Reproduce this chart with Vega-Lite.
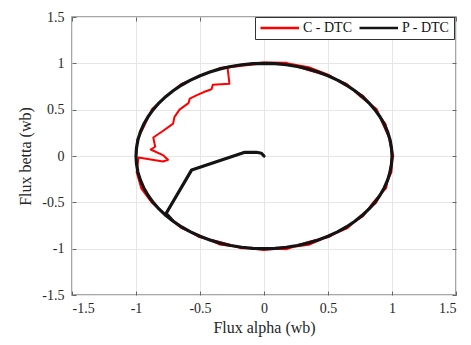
{
  "$schema": "https://vega.github.io/schema/vega-lite/v6.json",
  "width": 384,
  "height": 278,
  "autosize": "none",
  "padding": {"left": 72, "top": 17, "right": 15, "bottom": 50},
  "background": "white",
  "config": {
    "font": "Liberation Serif",
    "view": {"stroke": "#8a8a8a", "strokeWidth": 1.5}
  },
  "data": {
    "values": [
      {"s": "C - DTC", "i": 1, "x": 0, "y": 0},
      {"s": "C - DTC", "i": 2, "x": -0.02, "y": 0.03},
      {"s": "C - DTC", "i": 3, "x": -0.06, "y": 0.04},
      {"s": "C - DTC", "i": 4, "x": -0.15, "y": 0.04},
      {"s": "C - DTC", "i": 5, "x": -0.565, "y": -0.15},
      {"s": "C - DTC", "i": 6, "x": -0.765, "y": -0.62},
      {"s": "C - DTC", "i": 7, "x": -0.766, "y": -0.643},
      {"s": "C - DTC", "i": 8, "x": -0.649, "y": -0.774},
      {"s": "C - DTC", "i": 9, "x": -0.498, "y": -0.862},
      {"s": "C - DTC", "i": 10, "x": -0.347, "y": -0.954},
      {"s": "C - DTC", "i": 11, "x": -0.174, "y": -0.985},
      {"s": "C - DTC", "i": 12, "x": 0, "y": -1.015},
      {"s": "C - DTC", "i": 13, "x": 0.175, "y": -0.99},
      {"s": "C - DTC", "i": 14, "x": 0.349, "y": -0.959},
      {"s": "C - DTC", "i": 15, "x": 0.5, "y": -0.866},
      {"s": "C - DTC", "i": 16, "x": 0.653, "y": -0.777},
      {"s": "C - DTC", "i": 17, "x": 0.762, "y": -0.64},
      {"s": "C - DTC", "i": 18, "x": 0.875, "y": -0.505},
      {"s": "C - DTC", "i": 19, "x": 0.94, "y": -0.342},
      {"s": "C - DTC", "i": 20, "x": 0.995, "y": -0.176},
      {"s": "C - DTC", "i": 21, "x": 1.005, "y": 0},
      {"s": "C - DTC", "i": 22, "x": 0.98, "y": 0.173},
      {"s": "C - DTC", "i": 23, "x": 0.949, "y": 0.345},
      {"s": "C - DTC", "i": 24, "x": 0.866, "y": 0.5},
      {"s": "C - DTC", "i": 25, "x": 0.774, "y": 0.649},
      {"s": "C - DTC", "i": 26, "x": 0.64, "y": 0.762},
      {"s": "C - DTC", "i": 27, "x": 0.505, "y": 0.875},
      {"s": "C - DTC", "i": 28, "x": 0.349, "y": 0.959},
      {"s": "C - DTC", "i": 29, "x": 0.177, "y": 1.0},
      {"s": "C - DTC", "i": 30, "x": 0, "y": 1.0},
      {"s": "C - DTC", "i": 31, "x": -0.172, "y": 0.975},
      {"s": "C - DTC", "i": 32, "x": -0.285, "y": 0.955},
      {"s": "C - DTC", "i": 33, "x": -0.27, "y": 0.78},
      {"s": "C - DTC", "i": 34, "x": -0.4, "y": 0.77},
      {"s": "C - DTC", "i": 35, "x": -0.41, "y": 0.72},
      {"s": "C - DTC", "i": 36, "x": -0.47, "y": 0.69},
      {"s": "C - DTC", "i": 37, "x": -0.52, "y": 0.66},
      {"s": "C - DTC", "i": 38, "x": -0.58, "y": 0.62},
      {"s": "C - DTC", "i": 39, "x": -0.59, "y": 0.57},
      {"s": "C - DTC", "i": 40, "x": -0.66, "y": 0.5},
      {"s": "C - DTC", "i": 41, "x": -0.7, "y": 0.42},
      {"s": "C - DTC", "i": 42, "x": -0.71, "y": 0.35},
      {"s": "C - DTC", "i": 43, "x": -0.79, "y": 0.27},
      {"s": "C - DTC", "i": 44, "x": -0.865, "y": 0.2},
      {"s": "C - DTC", "i": 45, "x": -0.85, "y": 0.1},
      {"s": "C - DTC", "i": 46, "x": -0.885, "y": 0.07},
      {"s": "C - DTC", "i": 47, "x": -0.79, "y": 0.01},
      {"s": "C - DTC", "i": 48, "x": -0.75, "y": -0.04},
      {"s": "C - DTC", "i": 49, "x": -0.79, "y": -0.06},
      {"s": "C - DTC", "i": 50, "x": -0.98, "y": -0.015},
      {"s": "C - DTC", "i": 51, "x": -0.995, "y": -0.176},
      {"s": "C - DTC", "i": 52, "x": -0.959, "y": -0.349},
      {"s": "C - DTC", "i": 53, "x": -0.875, "y": -0.505},
      {"s": "C - DTC", "i": 54, "x": -0.762, "y": -0.64},
      {"s": "C - DTC", "i": 55, "x": -0.643, "y": -0.766},
      {"s": "C - DTC", "i": 56, "x": -0.505, "y": -0.875},
      {"s": "C - DTC", "i": 57, "x": -0.339, "y": -0.931},
      {"s": "C - DTC", "i": 58, "x": -0.176, "y": -0.995},
      {"s": "C - DTC", "i": 59, "x": 0, "y": -0.995},
      {"s": "C - DTC", "i": 60, "x": 0.177, "y": -1.005},
      {"s": "C - DTC", "i": 61, "x": 0.339, "y": -0.931},
      {"s": "C - DTC", "i": 62, "x": 0.505, "y": -0.875},
      {"s": "C - DTC", "i": 63, "x": 0.643, "y": -0.766},
      {"s": "C - DTC", "i": 64, "x": 0.774, "y": -0.649},
      {"s": "C - DTC", "i": 65, "x": 0.857, "y": -0.495},
      {"s": "C - DTC", "i": 66, "x": 0.954, "y": -0.347},
      {"s": "C - DTC", "i": 67, "x": 0.98, "y": -0.173},
      {"s": "C - DTC", "i": 68, "x": 1.01, "y": 0},
      {"s": "C - DTC", "i": 69, "x": 0.985, "y": 0.174},
      {"s": "C - DTC", "i": 70, "x": 0.931, "y": 0.339},
      {"s": "C - DTC", "i": 71, "x": 0.879, "y": 0.508},
      {"s": "C - DTC", "i": 72, "x": 0.758, "y": 0.637},
      {"s": "C - DTC", "i": 73, "x": 0.649, "y": 0.774},
      {"s": "C - DTC", "i": 74, "x": 0.5, "y": 0.866},
      {"s": "C - DTC", "i": 75, "x": 0.339, "y": 0.931},
      {"s": "C - DTC", "i": 76, "x": 0.177, "y": 1.005},
      {"s": "C - DTC", "i": 77, "x": 0, "y": 1.01},
      {"s": "C - DTC", "i": 78, "x": -0.174, "y": 0.985},
      {"s": "C - DTC", "i": 79, "x": -0.345, "y": 0.949},
      {"s": "C - DTC", "i": 80, "x": -0.498, "y": 0.862},
      {"s": "C - DTC", "i": 81, "x": -0.649, "y": 0.774},
      {"s": "C - DTC", "i": 82, "x": -0.766, "y": 0.643},
      {"s": "C - DTC", "i": 83, "x": -0.875, "y": 0.505},
      {"s": "C - DTC", "i": 84, "x": -0.931, "y": 0.339},
      {"s": "C - DTC", "i": 85, "x": -0.99, "y": 0.175},
      {"s": "C - DTC", "i": 86, "x": -1.0, "y": 0},
      {"s": "P - DTC", "i": 1, "x": 0, "y": 0},
      {"s": "P - DTC", "i": 2, "x": -0.02, "y": 0.03},
      {"s": "P - DTC", "i": 3, "x": -0.06, "y": 0.04},
      {"s": "P - DTC", "i": 4, "x": -0.15, "y": 0.04},
      {"s": "P - DTC", "i": 5, "x": -0.565, "y": -0.15},
      {"s": "P - DTC", "i": 6, "x": -0.765, "y": -0.62},
      {"s": "P - DTC", "i": 7, "x": -0.707, "y": -0.707},
      {"s": "P - DTC", "i": 8, "x": -0.643, "y": -0.766},
      {"s": "P - DTC", "i": 9, "x": -0.574, "y": -0.819},
      {"s": "P - DTC", "i": 10, "x": -0.5, "y": -0.866},
      {"s": "P - DTC", "i": 11, "x": -0.423, "y": -0.906},
      {"s": "P - DTC", "i": 12, "x": -0.342, "y": -0.94},
      {"s": "P - DTC", "i": 13, "x": -0.259, "y": -0.966},
      {"s": "P - DTC", "i": 14, "x": -0.174, "y": -0.985},
      {"s": "P - DTC", "i": 15, "x": -0.087, "y": -0.996},
      {"s": "P - DTC", "i": 16, "x": 0, "y": -1},
      {"s": "P - DTC", "i": 17, "x": 0.087, "y": -0.996},
      {"s": "P - DTC", "i": 18, "x": 0.174, "y": -0.985},
      {"s": "P - DTC", "i": 19, "x": 0.259, "y": -0.966},
      {"s": "P - DTC", "i": 20, "x": 0.342, "y": -0.94},
      {"s": "P - DTC", "i": 21, "x": 0.423, "y": -0.906},
      {"s": "P - DTC", "i": 22, "x": 0.5, "y": -0.866},
      {"s": "P - DTC", "i": 23, "x": 0.574, "y": -0.819},
      {"s": "P - DTC", "i": 24, "x": 0.643, "y": -0.766},
      {"s": "P - DTC", "i": 25, "x": 0.707, "y": -0.707},
      {"s": "P - DTC", "i": 26, "x": 0.766, "y": -0.643},
      {"s": "P - DTC", "i": 27, "x": 0.819, "y": -0.574},
      {"s": "P - DTC", "i": 28, "x": 0.866, "y": -0.5},
      {"s": "P - DTC", "i": 29, "x": 0.906, "y": -0.423},
      {"s": "P - DTC", "i": 30, "x": 0.94, "y": -0.342},
      {"s": "P - DTC", "i": 31, "x": 0.966, "y": -0.259},
      {"s": "P - DTC", "i": 32, "x": 0.985, "y": -0.174},
      {"s": "P - DTC", "i": 33, "x": 0.996, "y": -0.087},
      {"s": "P - DTC", "i": 34, "x": 1, "y": 0},
      {"s": "P - DTC", "i": 35, "x": 0.996, "y": 0.087},
      {"s": "P - DTC", "i": 36, "x": 0.985, "y": 0.174},
      {"s": "P - DTC", "i": 37, "x": 0.966, "y": 0.259},
      {"s": "P - DTC", "i": 38, "x": 0.94, "y": 0.342},
      {"s": "P - DTC", "i": 39, "x": 0.906, "y": 0.423},
      {"s": "P - DTC", "i": 40, "x": 0.866, "y": 0.5},
      {"s": "P - DTC", "i": 41, "x": 0.819, "y": 0.574},
      {"s": "P - DTC", "i": 42, "x": 0.766, "y": 0.643},
      {"s": "P - DTC", "i": 43, "x": 0.707, "y": 0.707},
      {"s": "P - DTC", "i": 44, "x": 0.643, "y": 0.766},
      {"s": "P - DTC", "i": 45, "x": 0.574, "y": 0.819},
      {"s": "P - DTC", "i": 46, "x": 0.5, "y": 0.866},
      {"s": "P - DTC", "i": 47, "x": 0.423, "y": 0.906},
      {"s": "P - DTC", "i": 48, "x": 0.342, "y": 0.94},
      {"s": "P - DTC", "i": 49, "x": 0.259, "y": 0.966},
      {"s": "P - DTC", "i": 50, "x": 0.174, "y": 0.985},
      {"s": "P - DTC", "i": 51, "x": 0.087, "y": 0.996},
      {"s": "P - DTC", "i": 52, "x": 0, "y": 1},
      {"s": "P - DTC", "i": 53, "x": -0.087, "y": 0.996},
      {"s": "P - DTC", "i": 54, "x": -0.174, "y": 0.985},
      {"s": "P - DTC", "i": 55, "x": -0.259, "y": 0.966},
      {"s": "P - DTC", "i": 56, "x": -0.342, "y": 0.94},
      {"s": "P - DTC", "i": 57, "x": -0.423, "y": 0.906},
      {"s": "P - DTC", "i": 58, "x": -0.5, "y": 0.866},
      {"s": "P - DTC", "i": 59, "x": -0.574, "y": 0.819},
      {"s": "P - DTC", "i": 60, "x": -0.643, "y": 0.766},
      {"s": "P - DTC", "i": 61, "x": -0.707, "y": 0.707},
      {"s": "P - DTC", "i": 62, "x": -0.766, "y": 0.643},
      {"s": "P - DTC", "i": 63, "x": -0.819, "y": 0.574},
      {"s": "P - DTC", "i": 64, "x": -0.866, "y": 0.5},
      {"s": "P - DTC", "i": 65, "x": -0.906, "y": 0.423},
      {"s": "P - DTC", "i": 66, "x": -0.94, "y": 0.342},
      {"s": "P - DTC", "i": 67, "x": -0.966, "y": 0.259},
      {"s": "P - DTC", "i": 68, "x": -0.985, "y": 0.174},
      {"s": "P - DTC", "i": 69, "x": -0.996, "y": 0.087},
      {"s": "P - DTC", "i": 70, "x": -1, "y": 0},
      {"s": "P - DTC", "i": 71, "x": -0.996, "y": -0.087},
      {"s": "P - DTC", "i": 72, "x": -0.985, "y": -0.174},
      {"s": "P - DTC", "i": 73, "x": -0.966, "y": -0.259},
      {"s": "P - DTC", "i": 74, "x": -0.94, "y": -0.342},
      {"s": "P - DTC", "i": 75, "x": -0.906, "y": -0.423},
      {"s": "P - DTC", "i": 76, "x": -0.866, "y": -0.5},
      {"s": "P - DTC", "i": 77, "x": -0.819, "y": -0.574},
      {"s": "P - DTC", "i": 78, "x": -0.766, "y": -0.643},
      {"s": "P - DTC", "i": 79, "x": -0.707, "y": -0.707}
    ]
  },
  "resolve": {"axis": {"x": "independent", "y": "independent"}},
  "layer": [
    {
      "transform": [{"filter": "datum.s == 'C - DTC'"}],
      "mark": {"type": "line", "strokeJoin": "round", "strokeCap": "round", "strokeWidth": 2},
      "encoding": {
        "x": {
          "field": "x", "type": "quantitative",
          "scale": {"domain": [-1.5, 1.5], "nice": false, "zero": false},
          "axis": {
            "orient": "bottom", "offset": -4,
            "values": [-1.5, -1, -0.5, 0, 0.5, 1, 1.5],
            "labelExpr": "'' + datum.value",
            "title": "Flux alpha (wb)",
            "titleFont": "Liberation Serif", "titleFontSize": 16, "titleFontWeight": "normal", "titleColor": "#262626", "titlePadding": 4,
            "labelFont": "Liberation Serif", "labelFontSize": 14, "labelColor": "#262626", "labelPadding": 6,
            "domain": false, "tickSize": 4, "tickColor": "#666", "tickWidth": 1,
            "grid": true, "gridColor": "#e6e6e6", "gridWidth": 1
          }
        },
        "y": {
          "field": "y", "type": "quantitative",
          "scale": {"domain": [-1.5, 1.5], "nice": false, "zero": false},
          "axis": {
            "orient": "left", "offset": -4,
            "values": [-1.5, -1, -0.5, 0, 0.5, 1, 1.5],
            "labelExpr": "'' + datum.value",
            "title": "Flux betta (wb)",
            "titleFont": "Liberation Serif", "titleFontSize": 16, "titleFontWeight": "normal", "titleColor": "#262626", "titlePadding": 8,
            "labelFont": "Liberation Serif", "labelFontSize": 14, "labelColor": "#262626", "labelPadding": 8,
            "domain": false, "tickSize": 4, "tickColor": "#666", "tickWidth": 1,
            "grid": true, "gridColor": "#e6e6e6", "gridWidth": 1
          }
        },
        "order": {"field": "i", "type": "quantitative"},
        "color": {
          "field": "s", "type": "nominal",
          "scale": {"domain": ["C - DTC", "P - DTC"], "range": ["#ff0000", "#141414"]},
          "legend": {
            "title": null, "orient": "none", "legendX": 183, "legendY": 0,
            "direction": "horizontal", "symbolType": "M-1,0H6", "symbolSize": 121, "symbolStrokeWidth": 2.5,
            "symbolFillColor": "transparent",
            "labelFont": "Liberation Serif", "labelFontSize": 14, "labelColor": "#111",
            "strokeColor": "#333", "fillColor": "white", "padding": 4, "columnPadding": 2, "labelOffset": 30,
            "cornerRadius": 0
          }
        }
      }
    },
    {
      "transform": [{"filter": "datum.s == 'P - DTC'"}],
      "mark": {"type": "line", "strokeJoin": "round", "strokeCap": "round", "strokeWidth": 3.2},
      "encoding": {
        "x": {
          "field": "x", "type": "quantitative",
          "axis": {
            "orient": "top", "offset": -4, "values": [-1.5, -1, -0.5, 0, 0.5, 1, 1.5],
            "labels": false, "title": null, "domain": false, "grid": false,
            "tickSize": 4, "tickColor": "#666", "tickWidth": 1
          }
        },
        "y": {
          "field": "y", "type": "quantitative",
          "axis": {
            "orient": "right", "offset": -4, "values": [-1.5, -1, -0.5, 0, 0.5, 1, 1.5],
            "labels": false, "title": null, "domain": false, "grid": false,
            "tickSize": 4, "tickColor": "#666", "tickWidth": 1
          }
        },
        "order": {"field": "i", "type": "quantitative"},
        "color": {"field": "s", "type": "nominal"}
      }
    }
  ]
}
